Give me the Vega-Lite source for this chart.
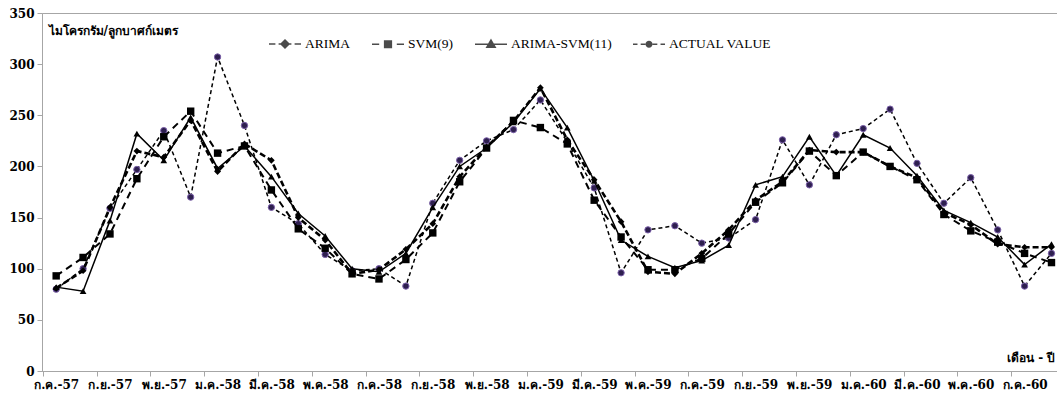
{
  "$schema": "https://vega.github.io/schema/vega-lite/v6.json",
  "width": 1015,
  "height": 358,
  "autosize": {"type": "none"},
  "padding": {"left": 42, "top": 13, "right": 0, "bottom": 26},
  "background": "white",
  "config": {
    "view": {"stroke": "#a6a6a6", "strokeWidth": 1},
    "axis": {"domainColor": "#a6a6a6", "tickColor": "#a6a6a6", "grid": false},
    "legend": {
      "orient": "none",
      "legendX": 226,
      "legendY": 14,
      "direction": "horizontal",
      "columns": 4,
      "padding": 0,
      "symbolSize": 1024,
      "labelOffset": 3,
      "columnPadding": 18,
      "labelFont": "Liberation Serif",
      "labelFontSize": 13.5,
      "labelColor": "black"
    }
  },
  "data": {
    "values": [
      {"month": "ก.ค.-57", "ARIMA": 81, "SVM": 93, "HYBRID": 82, "ACTUAL": 80},
      {"month": "ส.ค.-57", "ARIMA": 98, "SVM": 111, "HYBRID": 78, "ACTUAL": 100},
      {"month": "ก.ย.-57", "ARIMA": 160, "SVM": 134, "HYBRID": 147, "ACTUAL": 159},
      {"month": "ต.ค.-57", "ARIMA": 215, "SVM": 188, "HYBRID": 232, "ACTUAL": 197},
      {"month": "พ.ย.-57", "ARIMA": 209, "SVM": 229, "HYBRID": 206, "ACTUAL": 235},
      {"month": "ธ.ค.-57", "ARIMA": 245, "SVM": 254, "HYBRID": 248, "ACTUAL": 170},
      {"month": "ม.ค.-58", "ARIMA": 195, "SVM": 213, "HYBRID": 198, "ACTUAL": 307},
      {"month": "ก.พ.-58", "ARIMA": 222, "SVM": 220, "HYBRID": 220, "ACTUAL": 240},
      {"month": "มี.ค.-58", "ARIMA": 206, "SVM": 177, "HYBRID": 190, "ACTUAL": 160},
      {"month": "เม.ย.-58", "ARIMA": 150, "SVM": 139, "HYBRID": 154, "ACTUAL": 144},
      {"month": "พ.ค.-58", "ARIMA": 128, "SVM": 120, "HYBRID": 132, "ACTUAL": 114},
      {"month": "มิ.ย.-58", "ARIMA": 95, "SVM": 95, "HYBRID": 100, "ACTUAL": 98},
      {"month": "ก.ค.-58", "ARIMA": 99, "SVM": 90, "HYBRID": 97, "ACTUAL": 100},
      {"month": "ส.ค.-58", "ARIMA": 119, "SVM": 109, "HYBRID": 115, "ACTUAL": 83},
      {"month": "ก.ย.-58", "ARIMA": 144, "SVM": 135, "HYBRID": 160, "ACTUAL": 164},
      {"month": "ต.ค.-58", "ARIMA": 190, "SVM": 185, "HYBRID": 200, "ACTUAL": 206},
      {"month": "พ.ย.-58", "ARIMA": 219, "SVM": 218, "HYBRID": 218, "ACTUAL": 225},
      {"month": "ธ.ค.-58", "ARIMA": 244, "SVM": 245, "HYBRID": 243, "ACTUAL": 236},
      {"month": "ม.ค.-59", "ARIMA": 277, "SVM": 238, "HYBRID": 276, "ACTUAL": 265},
      {"month": "ก.พ.-59", "ARIMA": 226, "SVM": 222, "HYBRID": 238, "ACTUAL": 224},
      {"month": "มี.ค.-59", "ARIMA": 187, "SVM": 167, "HYBRID": 186, "ACTUAL": 179},
      {"month": "เม.ย.-59", "ARIMA": 146, "SVM": 131, "HYBRID": 128, "ACTUAL": 96},
      {"month": "พ.ค.-59", "ARIMA": 97, "SVM": 99, "HYBRID": 112, "ACTUAL": 138},
      {"month": "มิ.ย.-59", "ARIMA": 95, "SVM": 99, "HYBRID": 101, "ACTUAL": 142},
      {"month": "ก.ค.-59", "ARIMA": 115, "SVM": 110, "HYBRID": 108, "ACTUAL": 125},
      {"month": "ส.ค.-59", "ARIMA": 138, "SVM": 134, "HYBRID": 123, "ACTUAL": 130},
      {"month": "ก.ย.-59", "ARIMA": 167, "SVM": 165, "HYBRID": 182, "ACTUAL": 148},
      {"month": "ต.ค.-59", "ARIMA": 185, "SVM": 184, "HYBRID": 190, "ACTUAL": 226},
      {"month": "พ.ย.-59", "ARIMA": 216, "SVM": 215, "HYBRID": 229, "ACTUAL": 182},
      {"month": "ธ.ค.-59", "ARIMA": 214, "SVM": 191, "HYBRID": 191, "ACTUAL": 231},
      {"month": "ม.ค.-60", "ARIMA": 214, "SVM": 214, "HYBRID": 231, "ACTUAL": 237},
      {"month": "ก.พ.-60", "ARIMA": 200, "SVM": 200, "HYBRID": 218, "ACTUAL": 256},
      {"month": "มี.ค.-60", "ARIMA": 189, "SVM": 187, "HYBRID": 191, "ACTUAL": 203},
      {"month": "เม.ย.-60", "ARIMA": 155, "SVM": 153, "HYBRID": 157, "ACTUAL": 164},
      {"month": "พ.ค.-60", "ARIMA": 143, "SVM": 137, "HYBRID": 145, "ACTUAL": 189},
      {"month": "มิ.ย.-60", "ARIMA": 124, "SVM": 126, "HYBRID": 131, "ACTUAL": 138},
      {"month": "ก.ค.-60", "ARIMA": 121, "SVM": 115, "HYBRID": 104, "ACTUAL": 83},
      {"month": "ส.ค.-60", "ARIMA": 121, "SVM": 106, "HYBRID": 124, "ACTUAL": 115}
    ]
  },
  "encoding": {
    "x": {
      "field": "month",
      "type": "ordinal",
      "sort": null,
      "scale": {"type": "point", "padding": 0.366, "align": 0.72},
      "axis": {
        "values": ["ก.ค.-57", "ก.ย.-57", "พ.ย.-57", "ม.ค.-58", "มี.ค.-58", "พ.ค.-58", "ก.ค.-58", "ก.ย.-58", "พ.ย.-58", "ม.ค.-59", "มี.ค.-59", "พ.ค.-59", "ก.ค.-59", "ก.ย.-59", "พ.ย.-59", "ม.ค.-60", "มี.ค.-60", "พ.ค.-60", "ก.ค.-60"],
        "labelAngle": 0,
        "labelAlign": "center",
        "labelOverlap": false,
        "labelBound": false,
        "tickOffset": -13.45,
        "labelOffset": 13.45,
        "tickSize": 5,
        "labelPadding": 3,
        "labelFont": "DejaVu Serif, Liberation Serif, serif",
        "labelFontSize": 12,
        "labelFontWeight": "bold",
        "labelColor": "black",
        "title": "เดือน - ปี",
        "titleAngle": 0,
        "titleX": 1013,
        "titleY": -14,
        "titleAlign": "right",
        "titleBaseline": "middle",
        "titleFont": "DejaVu Serif, Liberation Serif, serif",
        "titleFontSize": 12,
        "titleFontWeight": "bold",
        "titleColor": "black"
      }
    }
  },
  "layer": [
    {
      "mark": {"type": "line", "color": "black", "strokeWidth": 1.5, "strokeDash": [4, 3],
        "point": {"shape": "circle", "size": 40, "filled": true, "fill": "#2e1f4f", "stroke": "#7a5fa8", "strokeWidth": 1}},
      "encoding": {
        "y": {
          "field": "ACTUAL",
          "type": "quantitative",
          "title": "ไมโครกรัม/ลูกบาศก์เมตร",
          "scale": {"domain": [0, 350], "nice": false},
          "axis": {
            "values": [0, 50, 100, 150, 200, 250, 300, 350],
            "tickSize": 5,
            "labelPadding": 3,
            "labelFont": "DejaVu Serif, Liberation Serif, serif",
            "labelFontSize": 12,
            "labelFontWeight": "bold",
            "labelColor": "black",
            "titleAngle": 0,
            "titleX": 6,
            "titleY": 17,
            "titleAlign": "left",
            "titleBaseline": "middle",
            "titleFont": "DejaVu Serif, Liberation Serif, serif",
            "titleFontSize": 12,
            "titleFontWeight": "bold",
            "titleColor": "black"
          }
        }
      }
    },
    {
      "mark": {"type": "line", "color": "black", "strokeWidth": 2, "strokeDash": [7, 5],
        "point": {"shape": "square", "size": 55, "filled": true, "color": "black"}},
      "encoding": {"y": {"field": "SVM", "type": "quantitative", "title": "ไมโครกรัม/ลูกบาศก์เมตร"}}
    },
    {
      "mark": {"type": "line", "color": "black", "strokeWidth": 2.6, "strokeDash": [6, 3],
        "point": {"shape": "diamond", "size": 45, "filled": true, "color": "black"}},
      "encoding": {"y": {"field": "ARIMA", "type": "quantitative", "title": "ไมโครกรัม/ลูกบาศก์เมตร"}}
    },
    {
      "mark": {"type": "line", "color": "black", "strokeWidth": 1.5,
        "point": {"shape": "triangle-up", "size": 45, "filled": true, "color": "black"}},
      "encoding": {"y": {"field": "HYBRID", "type": "quantitative", "title": "ไมโครกรัม/ลูกบาศก์เมตร"}}
    },
    {
      "transform": [{"fold": ["ARIMA", "SVM", "HYBRID", "ACTUAL"], "as": ["series", "v"]}],
      "mark": {"type": "point", "filled": false, "color": "black", "strokeWidth": 1.5, "clip": true},
      "encoding": {
        "y": {"datum": -1000, "type": "quantitative", "title": "ไมโครกรัม/ลูกบาศก์เมตร"},
        "shape": {
          "field": "series",
          "type": "nominal",
          "scale": {
            "domain": ["ARIMA", "SVM", "HYBRID", "ACTUAL"],
            "range": [
              "M-1,0H-0.6M-0.4,0H0.4M0.6,0H1M0,-0.25L0.25,0L0,0.25L-0.25,0ZM0,-0.19L0.19,0L0,0.19L-0.19,0ZM0,-0.13L0.13,0L0,0.13L-0.13,0ZM0,-0.07L0.07,0L0,0.07L-0.07,0Z",
              "M-1,0H-0.55M0.55,0H1M-0.21,-0.21H0.21V0.21H-0.21ZM-0.15,-0.15H0.15V0.15H-0.15ZM-0.09,-0.09H0.09V0.09H-0.09ZM-0.03,-0.03H0.03V0.03H-0.03Z",
              "M-1,0H1M0,-0.26L0.26,0.18H-0.26ZM0,-0.19L0.19,0.13H-0.19ZM0,-0.12L0.12,0.08H-0.12ZM0,-0.05L0.05,0.04H-0.05Z",
              "M-1,0H-0.72M-0.52,0H-0.22M0.22,0H0.52M0.72,0H1M0.17,0A0.17,0.17 0 1,1 -0.17,0A0.17,0.17 0 1,1 0.17,0ZM0.11,0A0.11,0.11 0 1,1 -0.11,0A0.11,0.11 0 1,1 0.11,0ZM0.05,0A0.05,0.05 0 1,1 -0.05,0A0.05,0.05 0 1,1 0.05,0Z"
            ]
          },
          "legend": {
            "title": null,
            "labelExpr": "datum.label == 'SVM' ? 'SVM(9)' : datum.label == 'HYBRID' ? 'ARIMA-SVM(11)' : datum.label == 'ACTUAL' ? 'ACTUAL VALUE' : datum.label"
          }
        }
      }
    }
  ],
  "resolve": {"scale": {"shape": "independent"}}
}
